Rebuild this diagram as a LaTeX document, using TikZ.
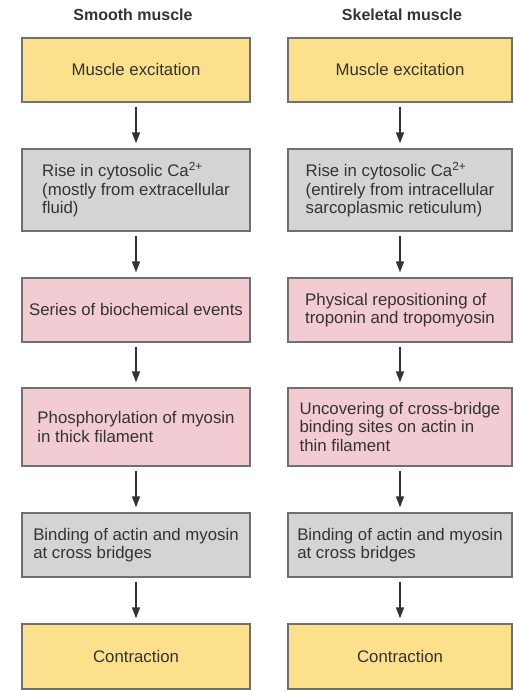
\documentclass[tikz,border=0pt]{standalone}
\usepackage{fontspec}
\setmainfont{Liberation Sans}
\usetikzlibrary{arrows.meta}
\definecolor{ylw}{HTML}{FCE08C}
\definecolor{pnk}{HTML}{F2CBD3}
\definecolor{gry}{HTML}{D4D4D6}
\definecolor{bord}{HTML}{707070}
\definecolor{txt}{HTML}{333333}
\tikzset{
  x=1pt,y=1pt,
  stepbox/.style={draw=bord, line width=1.3pt, minimum width=228pt, inner sep=0pt, align=left,
    text=txt, font=\fontsize{16.8}{18.5}\selectfont},
  rbox/.style={stepbox, minimum width=224pt},
  yel/.style={fill=ylw},
  pin/.style={fill=pnk},
  gra/.style={fill=gry},
  title/.style={font=\bfseries\fontsize{16}{18}\selectfont, text=txt},
  arr/.style={draw=txt, line width=1.5pt, -{Triangle[length=11pt,width=8pt]}, shorten <=4pt, shorten >=5pt}
}
\begin{document}
\begin{tikzpicture}
\useasboundingbox (0,0) rectangle (513,692);
% titles
\node[title] (t1) at (133,677) {Smooth muscle};
\node[title] (t2) at (402,677) {Skeletal muscle};
% left column
\node[stepbox,yel,minimum height=64pt] (l1) at (136,622) {Muscle excitation};
\node[stepbox,gra,minimum height=82pt] (l2) at (136,502) {Rise in cytosolic Ca\textsuperscript{2+}\\(mostly from extracellular\\fluid)};
\node[stepbox,pin,minimum height=64pt] (l3) at (136,382) {Series of biochemical events};
\node[stepbox,pin,minimum height=78pt] (l4) at (136,265) {Phosphorylation of myosin\\in thick filament};
\node[stepbox,gra,minimum height=64pt] (l5) at (136,147) {Binding of actin and myosin\\at cross bridges};
\node[stepbox,yel,minimum height=65pt] (l6) at (136,35.5) {Contraction};
% right column
\node[rbox,yel,minimum height=64pt] (r1) at (400,622) {Muscle excitation};
\node[rbox,gra,minimum height=82pt] (r2) at (400,502) {Rise in cytosolic Ca\textsuperscript{2+}\\(entirely from intracellular\\sarcoplasmic reticulum)};
\node[rbox,pin,minimum height=64pt] (r3) at (400,382) {Physical repositioning of\\troponin and tropomyosin};
\node[rbox,pin,minimum height=78pt] (r4) at (400,265) {Uncovering of cross-bridge\\binding sites on actin in\\thin filament};
\node[rbox,gra,minimum height=64pt] (r5) at (400,147) {Binding of actin and myosin\\at cross bridges};
\node[rbox,yel,minimum height=65pt] (r6) at (400,35.5) {Contraction};
% arrows
\foreach \a/\b in {l1/l2,l2/l3,l3/l4,l4/l5,l5/l6,r1/r2,r2/r3,r3/r4,r4/r5,r5/r6}
  \draw[arr] (\a.south) -- (\b.north);
\end{tikzpicture}
\end{document}
